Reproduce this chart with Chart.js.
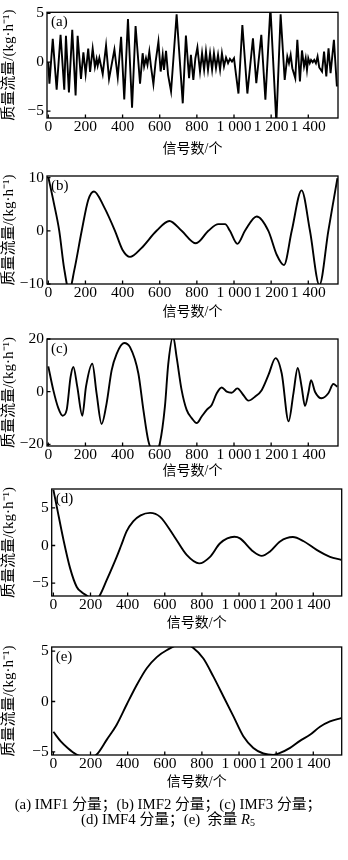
<!DOCTYPE html>
<html>
<head>
<meta charset="utf-8">
<script src="https://cdn.jsdelivr.net/npm/chart.js@4.4.0/dist/chart.umd.min.js"></script>
<style>
  html, body { margin: 0; padding: 0; background: #fff; }
  body { width: 348px; height: 860px; position: relative; overflow: hidden; }
  canvas { position: absolute; left: 0; }
  .cap { position: absolute; left: 0; width: 336px; text-align: center; color: #000;
         font: 14.8px "Liberation Serif", "Noto Sans CJK SC", serif; line-height: 15px; white-space: nowrap; }
  .cap sub { font-size: 10px; vertical-align: -2px; line-height: 0; }
</style>
</head>
<body>
<canvas id="panelA"></canvas>
<canvas id="panelB"></canvas>
<canvas id="panelC"></canvas>
<canvas id="panelD"></canvas>
<canvas id="panelE"></canvas>
<div class="cap" style="top:797px">(a) IMF1 分量；(b) IMF2 分量；(c) IMF3 分量；</div>
<div class="cap" style="top:812px">(d) IMF4 分量；(e)&nbsp; 余量 <i>R</i><sub>5</sub></div>
<script>
// ---- axis ticks -------------------------------------------------------
const xTickValues = [0, 200, 400, 600, 800, 1000, 1200, 1400];
const xTickLabels = ['0', '200', '400', '600', '800', '1 000', '1 200', '1 400'];
const yTicksA = [-5, 0, 5];
const yTicksB = [-10, 0, 10];
const yTicksC = [-20, 0, 20];
const yTicksD = [-5, 0, 5];
const yTicksE = [-5, 0, 5];
const panelTags = ['(a)', '(b)', '(c)', '(d)', '(e)'];
const xTitle = '信号数/个';
const yTitle = '质量流量/(kg·h⁻¹)';

// ---- IMF1 (sample index / mass flow) -----------------------------------
const imf1X = [0, 6, 24, 45, 66, 86, 95, 111, 129, 147, 158, 176, 189, 201, 215, 225, 239, 251, 260, 266,
  275, 293, 311, 327, 356, 374, 392, 409, 429, 451, 470, 494, 508, 516, 526, 534, 544, 553, 566, 578,
  593, 605, 616, 623, 634, 645, 661, 691, 724, 741, 758, 768, 781, 792, 803, 817, 828, 839, 849, 860,
  871, 882, 892, 903, 914, 925, 935, 946, 957, 968, 978, 989, 1000, 1011, 1024, 1045, 1072, 1102, 1120, 1147,
  1169, 1196, 1228, 1251, 1273, 1287, 1296, 1305, 1314, 1330, 1341, 1355, 1366, 1377, 1386, 1393, 1400, 1408, 1415, 1424,
  1432, 1441, 1450, 1459, 1474, 1485, 1497, 1509, 1520, 1538, 1554];
const imf1Y = [0.0, -2.2, 2.4, -2.8, 2.8, -2.8, 2.7, -3.1, 3.3, -3.4, 2.7, -1.7, 1.0, -1.2, 1.4, -1.0, 1.4, -0.5, 0.35, -0.35,
  0.45, -1.2, 1.7, -1.7, 1.3, -1.55, 2.6, -3.8, 4.4, -4.65, 3.7, -2.2, 0.92, -0.44, 0.41, -0.27, 1.09, -0.44, -2.24, 0.07,
  2.1, -0.95, 0.75, -0.78, 1.16, -1.29, -2.99, 4.9, -4.2, 2.72, -1.63, 0.75, -1.8, 0.41, 1.5, -0.95, 0.92, -0.78, 1.09, -0.78,
  0.92, -0.78, 0.92, -0.61, 0.75, -0.78, 0.92, -0.44, 0.48, -0.1, 0.34, 0.07, 0.41, -1.29, -3.2, 3.8, -3.2, 2.45, -2.14, 2.79,
  -3.84, 5.6, -6.2, 4.9, -1.8, 0.58, -0.1, 0.75, -0.61, -1.63, 2.28, -1.97, 1.2, -0.44, 0.41, -0.78, 0.41, -0.1, 0.24, 0.0,
  0.24, -0.1, 0.58, -0.54, -0.95, 1.09, -1.46, 1.43, -1.12, 2.28, -2.48];

// ---- IMF2 ---------------------------------------------------------------
const imf2X = [0, 30, 59, 85, 113, 140, 180, 215, 246, 300, 359, 400, 440, 500, 583, 652, 718, 795, 862, 916,
  952, 978, 1018, 1059, 1122, 1185, 1230, 1269, 1311, 1364, 1409, 1460, 1508, 1535, 1557];
const imf2Y = [10.1, 5.2, 0, -7.0, -11.3, -7.4, 0, 5.8, 7.4, 4.5, 0, -3.6, -4.9, -3.3, 0, 1.85, 0, -2.35, 0, 1.25,
  1.25, 0, -2.45, 0, 2.7, 0, -4.5, -6.45, 0, 7.6, 0, -10.2, 0, 5.5, 9.9];

// ---- IMF3 ---------------------------------------------------------------
const imf3X = [0, 27, 54, 77, 99, 120, 135, 156, 183, 203, 237, 260, 287, 314, 341, 368, 408, 440, 485, 512,
  539, 572, 601, 628, 646, 672, 691, 718, 745, 772, 799, 826, 853, 880, 907, 934, 961, 987, 1018, 1050,
  1077, 1113, 1149, 1185, 1224, 1257, 1294, 1320, 1343, 1364, 1382, 1400, 1415, 1436, 1472, 1508, 1535, 1556];
const imf3Y = [9.6, 0.6, -6.25, -9.1, -6.9, 5.6, 9.4, 1.9, -9.1, 1.9, 10.6, -0.6, -12.25, -4.4, 8.1, 14.4, 18.5, 16.9, 6.9, -6.9,
  -18.75, -23, -19.4, -5.6, 10.6, 21, 13.1, 0.6, -6.9, -10, -11.9, -9.4, -6.9, -5, -0.6, 1.6, 0, -0.4, 1.25, -1.25,
  -3.4, -1.9, 0.6, 6.25, 12.75, 6.9, -11.25, -0.6, 9, 1.9, -5.4, -0.6, 4.4, 0, -2.5, -0.6, 2.9, 1.9];

// ---- IMF4 ---------------------------------------------------------------
const imf4X = [0, 18, 54, 90, 126, 153, 183, 215, 248, 287, 341, 365, 395, 430, 470, 521, 575, 646, 718, 785,
  844, 898, 975, 1005, 1077, 1122, 1167, 1221, 1290, 1346, 1418, 1490, 1550];
const imf4Y = [7.4, 5.2, 0.8, -3.0, -5.5, -6.2, -6.7, -7.4, -6.7, -4.6, -1.5, 0, 1.9, 3.2, 4.0, 4.33, 3.8, 1.4, -1.25, -2.37,
  -1.5, 0.3, 1.16, 0.95, -0.8, -1.38, -0.8, 0.54, 1.12, 0.6, -0.58, -1.5, -1.9];

// ---- residual R5 --------------------------------------------------------
const resX = [0, 40, 80, 120, 180, 233, 287, 341, 395, 449, 503, 557, 610, 700, 754, 808, 862, 916, 970, 1023,
  1077, 1131, 1185, 1221, 1275, 1328, 1382, 1436, 1490, 1550];
const resY = [-3.0, -3.95, -4.65, -5.2, -5.6, -5.25, -3.8, -2.3, -0.3, 1.64, 3.3, 4.4, 5.08, 5.75, 5.3, 4.26, 2.46, 0.5, -1.48, -3.44,
  -4.6, -5.15, -5.3, -5.1, -4.6, -3.9, -3.3, -2.5, -1.97, -1.64];

// ---- drawing -------------------------------------------------------------
const SERIF = '"Liberation Serif", "Times New Roman", "Noto Sans CJK SC", serif';
const TITLE_FONT = 14;
const TITLE_LH = TITLE_FONT * 1.2;

// frame around the plot, inward tick marks and the panel tag
const framePlugin = {
  id: 'frame',
  afterDatasetsDraw(chart, args, opts) {
    const { ctx, chartArea: a, scales } = chart;
    ctx.save();
    ctx.strokeStyle = '#000';
    ctx.lineWidth = 1.3;
    ctx.strokeRect(a.left, a.top, a.right - a.left, a.bottom - a.top);
    ctx.beginPath();
    scales.x.ticks.forEach(t => {
      const px = scales.x.getPixelForValue(t.value);
      ctx.moveTo(px, a.bottom); ctx.lineTo(px, a.bottom - 3.5);
    });
    scales.y.ticks.forEach(t => {
      const py = scales.y.getPixelForValue(t.value);
      ctx.moveTo(a.left, py); ctx.lineTo(a.left + 3.5, py);
    });
    ctx.stroke();
    ctx.fillStyle = '#000';
    ctx.font = '15px ' + SERIF;
    ctx.textBaseline = 'middle';
    ctx.textAlign = 'left';
    ctx.fillText(opts.tag, a.left + 4, a.top + 10);
    ctx.restore();
  }
};

const minus = v => (v < 0 ? '\u2212' + Math.abs(v) : String(v));

function panel(id, g, xs, ys, yTicks, yMin, yMax, xMin, xMax, smooth, tag) {
  const cv = document.getElementById(id);
  const h = Math.round(g.titleY + TITLE_LH / 2 - g.ct);
  cv.width = 348; cv.height = h;
  cv.style.top = g.ct + 'px';
  cv.style.width = '348px'; cv.style.height = h + 'px';
  const axisH = h - (g.B - g.ct);
  new Chart(cv, {
    type: 'line',
    data: {
      datasets: [{
        data: xs.map((x, i) => ({ x, y: ys[i] })),
        borderColor: '#000',
        borderWidth: 1.9,
        pointRadius: 0,
        fill: false,
        tension: 0,
        cubicInterpolationMode: smooth ? 'monotone' : 'default',
        clip: 0
      }]
    },
    options: {
      responsive: false,
      animation: false,
      devicePixelRatio: 1,
      layout: { padding: { left: 0, top: g.T - g.ct, right: 348 - g.R, bottom: 0 } },
      plugins: { legend: { display: false }, tooltip: { enabled: false }, frame: { tag } },
      scales: {
        x: {
          type: 'linear', min: xMin, max: xMax,
          grid: { display: false, drawTicks: false },
          border: { display: false },
          afterBuildTicks: s => { s.ticks = xTickValues.map(v => ({ value: v })); },
          afterFit: s => { s.height = axisH; },
          ticks: {
            autoSkip: false, maxRotation: 0, padding: 0, color: '#000',
            font: { family: SERIF, size: 15.5 },
            callback: (v, i) => xTickLabels[i]
          },
          title: {
            display: true, text: xTitle, color: '#000', padding: 0,
            font: { family: SERIF, size: TITLE_FONT }
          }
        },
        y: {
          type: 'linear', min: yMin, max: yMax,
          grid: { display: false, drawTicks: false },
          border: { display: false },
          afterBuildTicks: s => { s.ticks = yTicks.map(v => ({ value: v })); },
          afterFit: s => { s.width = g.L; },
          ticks: {
            padding: 3, color: '#000',
            font: { family: SERIF, size: 15.5 },
            callback: v => minus(v)
          },
          title: {
            display: true, text: yTitle, color: '#000', padding: 0,
            font: { family: SERIF, size: 15 }
          }
        }
      }
    },
    plugins: [framePlugin]
  });
}

panel('panelA', { ct: 0,   L: 47,   R: 338,   T: 12,  B: 118, titleY: 150 }, imf1X, imf1Y, yTicksA, -5.7, 5.1, -7, 1560, false, panelTags[0]);
panel('panelB', { ct: 163, L: 47,   R: 338,   T: 176, B: 284, titleY: 313 }, imf2X, imf2Y, yTicksB, -10, 10.3, -7, 1560, true, panelTags[1]);
panel('panelC', { ct: 326, L: 47,   R: 338,   T: 339, B: 446, titleY: 472 }, imf3X, imf3Y, yTicksC, -20.6, 20, -7, 1560, true, panelTags[2]);
panel('panelD', { ct: 476, L: 51.7, R: 341.7, T: 489, B: 596, titleY: 624 }, imf4X, imf4Y, yTicksD, -6.7, 7.5, -9, 1553, true, panelTags[3]);
panel('panelE', { ct: 634, L: 51.7, R: 341.7, T: 647, B: 755, titleY: 783 }, resX, resY, yTicksE, -5.3, 5.4, -9, 1553, true, panelTags[4]);
</script>
</body>
</html>
